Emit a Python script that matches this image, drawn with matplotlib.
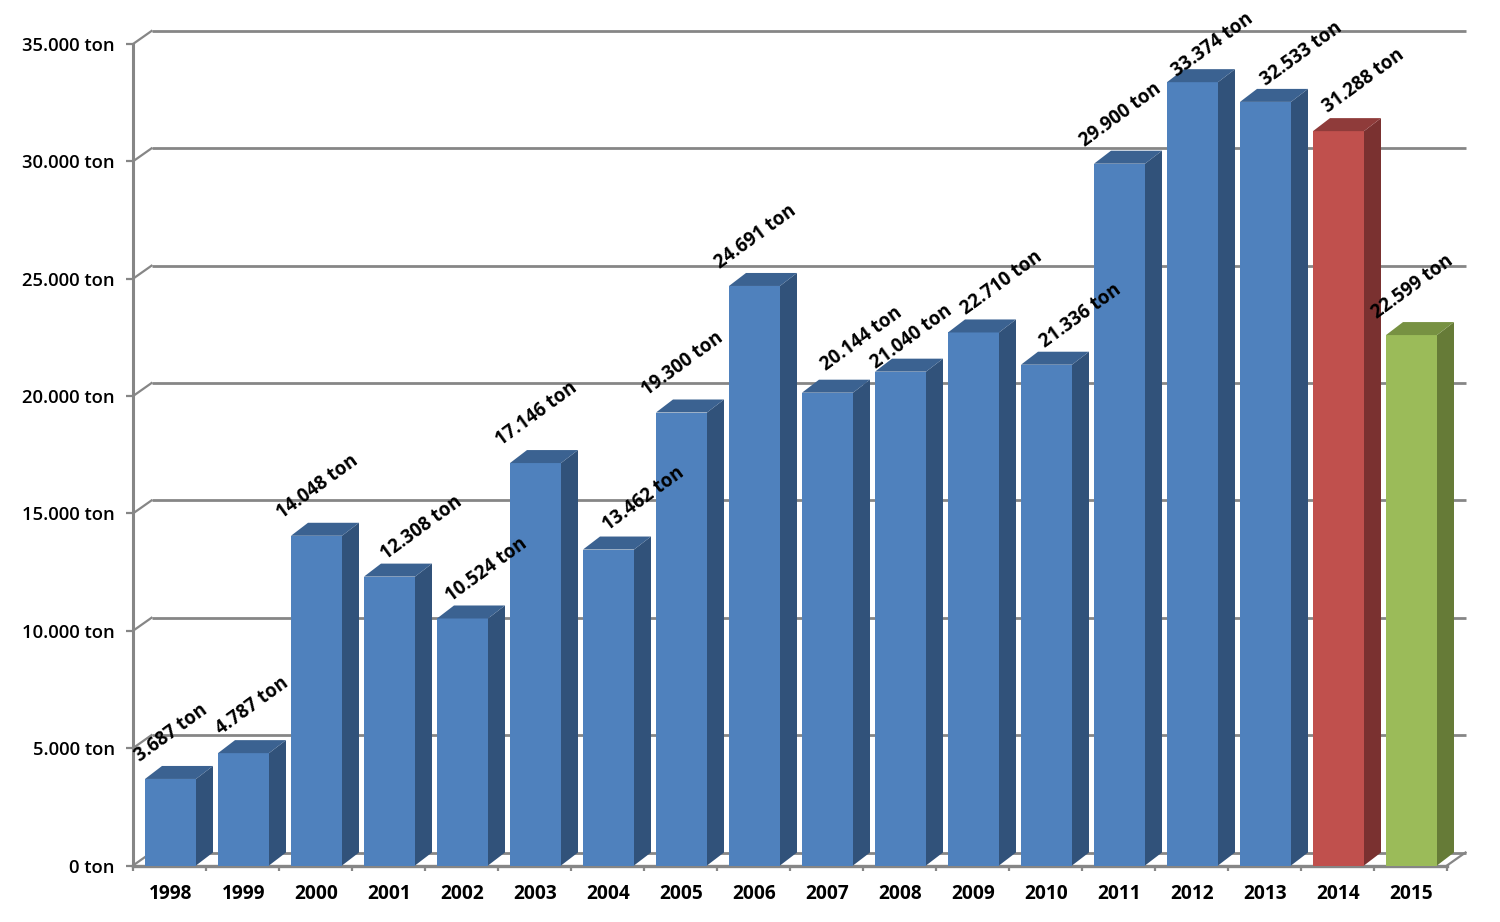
import matplotlib
matplotlib.use('Agg')
import matplotlib.pyplot as plt

# Data
years = ['1998', '1999', '2000', '2001', '2002', '2003', '2004', '2005', '2006',
         '2007', '2008', '2009', '2010', '2011', '2012', '2013', '2014', '2015']
tons = [3687, 4787, 14048, 12308, 10524, 17146, 13462, 19300, 24691,
        20144, 21040, 22710, 21336, 29900, 33374, 32533, 31288, 22599]
y_ticks = [0, 5000, 10000, 15000, 20000, 25000, 30000, 35000]

# hand placed label nudges, in pixels from the default spot
label_dx = [1, 9, 1, 32, 24, 1, 35, 1, 1, 34, 11, 28, 34, 1, 20, 36, 25, 1]
label_dy = [-3, -2, 0, 0, 0, 0, 2, 0, 0, 5, -14, 1, 0, 0, -12, -1, 1, -1]

# front, side, top
blue = ('#4F81BD', '#31527A', '#3B6291')
red = ('#C0504D', '#7A3130', '#8F3B3A')
green = ('#9BBB59', '#667B37', '#779142')
bar_colors = [blue] * 16 + [red, green]

GRID = '#868686'
FONT = ['Open Sans', 'DejaVu Sans']
W, H = 1500, 922
PX = 72 / 100  # pixels to points

fig = plt.figure(figsize=(W / 100, H / 100), dpi=100, facecolor='white')
ax = fig.add_axes([133 / W, (H - 865.5) / H, 1314 / W, 821.5 / H])
ax.set_xlim(0, len(years))
ax.set_ylim(0, 35000)
for s in ax.spines.values():
    s.set_visible(False)

# depth of the fake 3D, in data units
slot_px = 1314 / len(years)
unit_px = 821.5 / 35000
wall_dx = 18.5 / slot_px
wall_dy = 13 / unit_px
bar_dx = 17 / slot_px
bar_dy = 13 / unit_px
bar_w = 51 / slot_px
shift = 1 / slot_px

# back wall, floor and left wall
for t in y_ticks:
    ax.plot([wall_dx, len(years) + wall_dx], [t + wall_dy, t + wall_dy],
            color=GRID, lw=2.0, clip_on=False, zorder=1, solid_capstyle='butt')
    ax.plot([0, wall_dx], [t, t + wall_dy], color=GRID, lw=1.6, clip_on=False, zorder=1)
ax.plot([len(years), len(years) + wall_dx], [0, wall_dy], color=GRID, lw=1.6,
        clip_on=False, zorder=1)
ax.plot([0, 0], [0, 35000], color=GRID, lw=2.2, clip_on=False, zorder=2)
ax.plot([0, len(years)], [0, 0], color=GRID, lw=2.4, clip_on=False, zorder=2)

# bars
for i, v in enumerate(tons):
    front, side, top = bar_colors[i]
    xc = i + 0.5 + shift
    x0 = xc - bar_w / 2
    x1 = x0 + bar_w
    ax.bar(xc, v, width=bar_w, color=front, linewidth=0, zorder=3)
    ax.fill([x1, x1 + bar_dx, x1 + bar_dx, x1], [0, bar_dy, v + bar_dy, v],
            color=side, lw=0, zorder=3, clip_on=False)
    ax.fill([x0, x0 + bar_dx, x1 + bar_dx, x1], [v, v + bar_dy, v + bar_dy, v],
            color=top, lw=0, zorder=3, clip_on=False)
    label = f'{v:,} ton'.replace(',', '.')
    ax.annotate(label, (xc, v),
                xytext=(label_dx[i] * PX, (49 + label_dy[i]) * PX),
                textcoords='offset points', ha='center', va='center',
                rotation=36, rotation_mode='anchor', fontsize=13.4,
                fontweight='bold', family=FONT, color='black', zorder=5,
                annotation_clip=False)

# ticks
ax.set_yticks(y_ticks)
ax.set_yticklabels([f'{t:,} ton'.replace(',', '.') for t in y_ticks],
                   fontsize=13.3, color='black')
ax.tick_params(axis='y', length=5, width=1.6, color=GRID, pad=8)
ax.set_xticks(range(len(years) + 1))
ax.set_xticklabels([])
ax.tick_params(axis='x', which='major', length=3.5, width=1.6, color=GRID)
ax.set_xticks([i + 0.5 + shift for i in range(len(years))], minor=True)
ax.set_xticklabels(years, minor=True, fontsize=13.8, color='black')
ax.tick_params(axis='x', which='minor', length=0, pad=13)
for lab in ax.get_yticklabels() + ax.get_xticklabels(minor=True):
    lab.set_fontweight('bold')
    lab.set_family(FONT)
for lab in ax.get_yticklabels():
    lab.set_fontweight('semibold')

fig.savefig('out.png', dpi=100, facecolor='white')
